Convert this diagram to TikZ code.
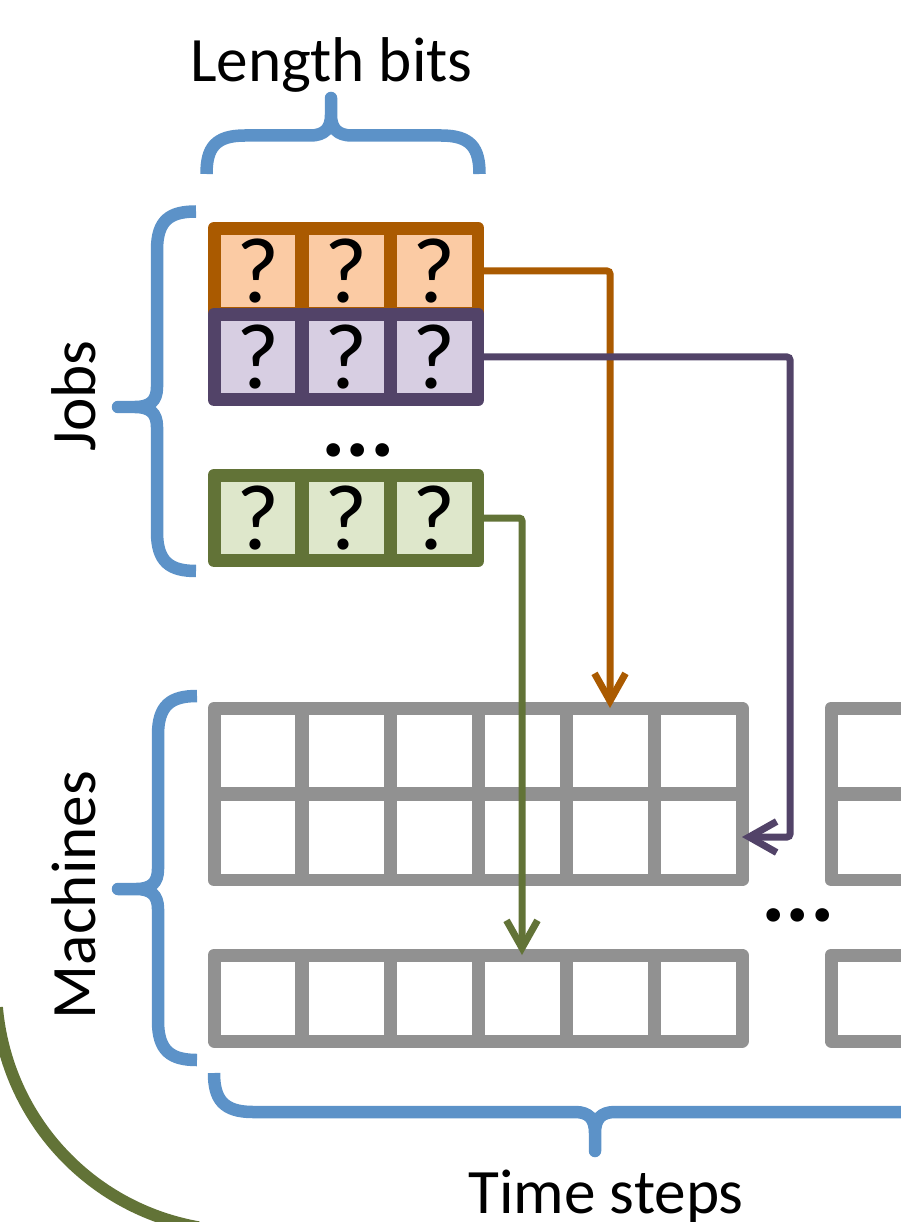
\documentclass[tikz,border=0pt]{standalone}
\usepackage{fontspec}
\setmainfont{Carlito}
\usetikzlibrary{arrows.meta,calc}

\definecolor{braceblue}{RGB}{92,146,200}
\definecolor{gridgray}{RGB}{145,145,145}
\definecolor{orngline}{RGB}{170,90,0}
\definecolor{orngfill}{RGB}{251,203,164}
\definecolor{purpline}{RGB}{82,67,104}
\definecolor{purpfill}{RGB}{215,206,226}
\definecolor{grnline}{RGB}{98,115,55}
\definecolor{grnfill}{RGB}{222,231,203}

\begin{document}
\begin{tikzpicture}[
    x=0.02cm, y=-0.02cm,
    cell/.style={rectangle, draw=gridgray, line width=0.26cm, line join=round, minimum width=1.76cm, minimum height=1.72cm, inner sep=0pt, outer sep=0pt},
    jobcell/.style={cell, draw=#1line, fill=#1fill, font=\fontsize{53}{55}\selectfont},
    bluebrace/.style={draw=braceblue, line width=0.25cm, line join=round},
    lbl/.style={font=\fontsize{36}{40}\selectfont, inner sep=0pt},
    ellip/.style={font=\fontsize{52}{54}\selectfont\bfseries, inner sep=0pt},
    link/.style={line width=0.14cm, rounded corners=0.06cm, -{Straight Barb[length=0.55cm, width=0.62cm]}},
    arcline/.style={draw=grnline, line width=0.24cm}
]
    \clip (0,0) rectangle (901,1222);

    % job rows
    \foreach \i in {1,2,3}
        \node[jobcell=orng] (o\i) at ({170+88*\i},271) {?};
    \foreach \i in {1,2,3}
        \node[jobcell=purp] (p\i) at ({170+88*\i},357) {?};
    \foreach \i in {1,2,3}
        \node[jobcell=grn] (g\i) at ({170+88*\i},518) {?};
    \node[ellip] (jdots) at (358,450) {...};

    % machine grid
    \foreach \r/\y in {1/751, 2/837, 3/998} {
        \foreach \c in {1,...,6}
            \node[cell] (m\r c\c) at ({170+88*\c},\y) {};
        \foreach \c in {1,2}
            \node[cell] (x\r c\c) at ({787+88*\c},\y) {};
    }
    \node[ellip] (gdots) at (798,915) {...};

    % assignments
    \draw[link, draw=orngline] (o3.east) -| (m1c5.north);
    \draw[link, draw=purpline] (p3.east) -| ($(m2c6.east)+(48,0)$) -- (m2c6.east);
    \draw[link, draw=grnline] (g3.east) -| (m3c4.north);

    % braces
    \draw[bluebrace] (206.5,174) .. controls (206.5,148) and (215,135.5) .. (245,135.5) -- (310,135.5)
        .. controls (325,135.5) and (331,128) .. (331,115) -- (331,98) -- (331,115)
        .. controls (331,128) and (337,135.5) .. (352,135.5) -- (441,135.5)
        .. controls (471,135.5) and (479.5,148) .. (479.5,174);
    \draw[bluebrace] (196,211.5) .. controls (170,211.5) and (157,220) .. (157,250) -- (157,387)
        .. controls (157,401) and (150,407) .. (135,407) -- (118,407) -- (135,407)
        .. controls (150,407) and (157,413) .. (157,427) -- (157,532)
        .. controls (157,562) and (170,571) .. (196,571);
    \draw[bluebrace] (197,696) .. controls (171,696) and (158,705) .. (158,735) -- (158,869)
        .. controls (158,883) and (151,889) .. (136,889) -- (118,889) -- (136,889)
        .. controls (151,889) and (158,895) .. (158,909) -- (158,1021)
        .. controls (158,1051) and (171,1060) .. (197,1060);
    \draw[bluebrace] (214,1073) .. controls (214,1099) and (223,1112) .. (253,1112) -- (575,1112)
        .. controls (589,1112) and (595,1119) .. (595,1133) -- (595,1151) -- (595,1133)
        .. controls (595,1119) and (601,1112) .. (615,1112) -- (950,1112);

    % labels
    \node[lbl, anchor=base] (lenlbl) at (331.5,82) {Length bits};
    \node[lbl, rotate=90, anchor=base] (joblbl) at (95,396) {Jobs};
    \node[lbl, rotate=90, anchor=base] (maclbl) at (95,895) {Machines};
    \node[lbl, anchor=base] (timelbl) at (606,1213) {Time steps};

    % outer arc
    \draw[arcline] (241,986) ++(175:245) arc[start angle=175, end angle=100, radius=245];
\end{tikzpicture}
\end{document}
